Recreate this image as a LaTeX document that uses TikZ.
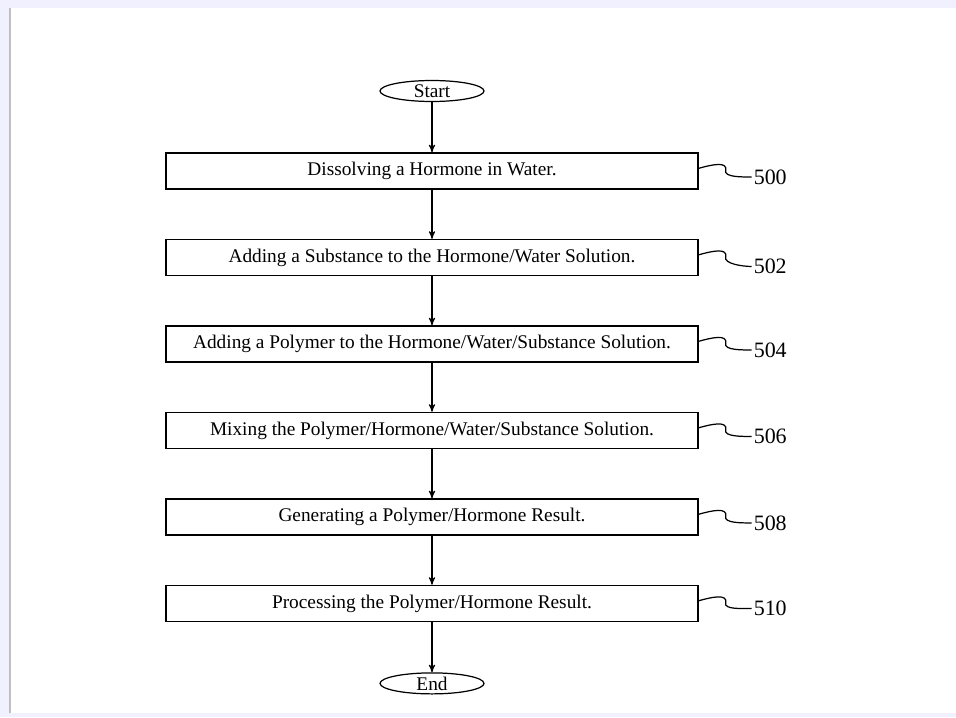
\documentclass[tikz,border=0pt]{standalone}
\usepackage{fontspec}
\setmainfont{Liberation Serif}
\usepackage{tikz}
\usetikzlibrary{positioning}
\usetikzlibrary{shapes,arrows}
\usetikzlibrary{calc}
\tikzset{
    stepbox/.style={
           rectangle,
           draw=black, line width=0.8pt,
           minimum width=10.64cm,
           minimum height=0.72cm,
           inner sep=2pt,
           font=\fontsize{11}{13}\selectfont,
           text centered,
           },
    terminal/.style={
           ellipse,
           draw=black, line width=0.7pt,
           minimum width=2.08cm,
           minimum height=0.42cm,
           inner sep=0pt,
           font=\fontsize{11}{13}\selectfont,
           },
    refnum/.style={
              inner sep=1pt,
              anchor=west,
              font=\fontsize{12.5}{14}\selectfont
              },
    leader/.style={line width=0.7pt},
}
% squiggly reference leader from a box to its numeral (px units)
\newcommand{\leaderline}[2]{%
  \draw[leader] ([yshift=1.5pt]#1.east) .. controls +(14,-4) and +(2,-9) .. ($([yshift=1.5pt]#1.east)+(27,2)$)
     .. controls +(-2,7) and +(-9,0) .. (#2.west);}

\begin{document}
\begin{tikzpicture}[x=0.02cm, y=-0.02cm, shorten >=0pt, >=stealth', node distance=1.73cm, on grid, auto]
   % slide background
   \useasboundingbox (0,0) rectangle (956,717);
   \fill[blue!6] (0,0) rectangle (956,717);
   \fill[white] (10,8) rectangle (956,713);
   \draw[black!25, line width=1pt] (10,8) -- (10,713);

   \node[terminal] (start) at (432,91) {Start};
   \node[stepbox] (s0) [below=1.6cm of start] {Dissolving a Hormone in Water.};
   \node[stepbox] (s1) [below=of s0] {Adding a Substance to the Hormone/Water Solution.};
   \node[stepbox] (s2) [below=of s1] {Adding a Polymer to the Hormone/Water/Substance Solution.};
   \node[stepbox] (s3) [below=of s2] {Mixing the Polymer/Hormone/Water/Substance Solution.};
   \node[stepbox] (s4) [below=of s3] {Generating a Polymer/Hormone Result.};
   \node[stepbox] (s5) [below=of s4] {Processing the Polymer/Hormone Result.};
   \node[terminal] (end) [below=1.6cm of s5] {End};

   % reference numerals
   \node[refnum] (r0) at ($(s0.east)+(53,6)$) {500};
   \node[refnum] (r1) at ($(s1.east)+(53,9)$) {502};
   \node[refnum] (r2) at ($(s2.east)+(53,6)$) {504};
   \node[refnum] (r3) at ($(s3.east)+(53,6)$) {506};
   \node[refnum] (r4) at ($(s4.east)+(53,6)$) {508};
   \node[refnum] (r5) at ($(s5.east)+(53,5)$) {510};

   \path[->, line width=0.6pt]
    (start) edge (s0)
    (s0) edge (s1)
    (s1) edge (s2)
    (s2) edge (s3)
    (s3) edge (s4)
    (s4) edge (s5)
    (s5) edge (end)
       ;

   \leaderline{s0}{r0}
   \leaderline{s1}{r1}
   \leaderline{s2}{r2}
   \leaderline{s3}{r3}
   \leaderline{s4}{r4}
   \leaderline{s5}{r5}
\end{tikzpicture}
\end{document}
